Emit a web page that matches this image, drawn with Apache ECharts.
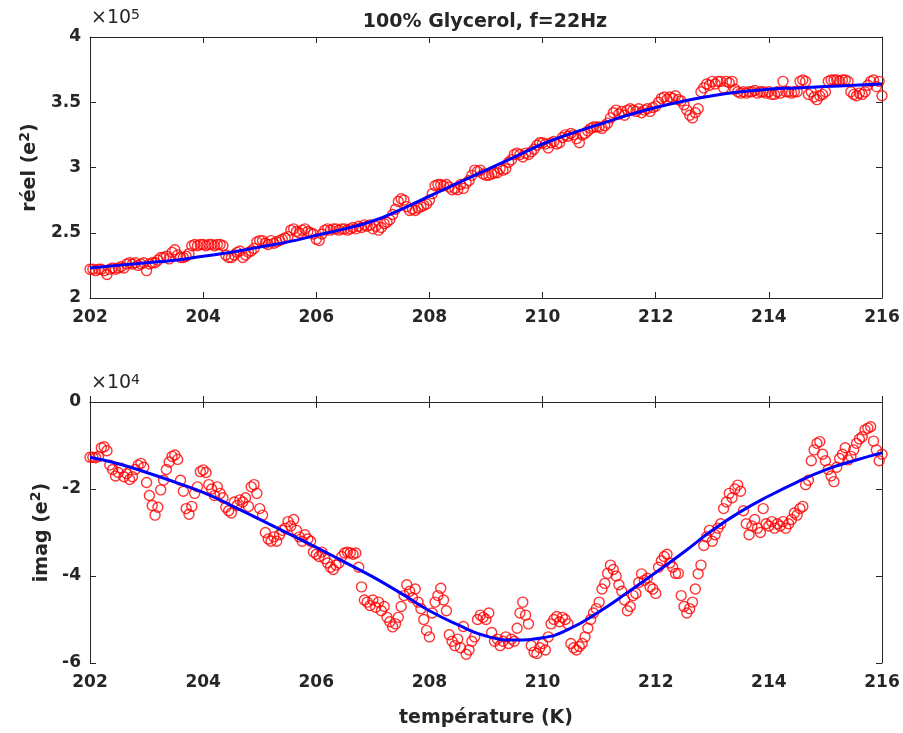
<!DOCTYPE html>
<html>
<head>
<meta charset="utf-8">
<script src="https://cdn.jsdelivr.net/npm/echarts@6/dist/echarts.min.js"></script>
<style>
  html, body { margin: 0; padding: 0; background: #fff; }
  #chart { width: 903px; height: 733px; }
</style>
</head>
<body>
<div id="chart"></div>
<script>
// Measurement temperatures (K)
const temperature = [
  202.00,202.05,202.10,202.15,202.20,202.25,202.30,202.35,202.40,202.45,
  202.50,202.55,202.60,202.65,202.70,202.75,202.80,202.85,202.90,202.95,
  203.00,203.05,203.10,203.15,203.20,203.25,203.30,203.35,203.40,203.45,
  203.50,203.55,203.60,203.65,203.70,203.75,203.80,203.85,203.90,203.95,
  204.00,204.05,204.10,204.15,204.20,204.25,204.30,204.35,204.40,204.45,
  204.50,204.55,204.60,204.65,204.70,204.75,204.80,204.85,204.90,204.95,
  205.00,205.05,205.10,205.15,205.20,205.25,205.30,205.35,205.40,205.45,
  205.50,205.55,205.60,205.65,205.70,205.75,205.80,205.85,205.90,205.95,
  206.00,206.05,206.10,206.15,206.20,206.25,206.30,206.35,206.40,206.45,
  206.50,206.55,206.60,206.65,206.70,206.75,206.80,206.85,206.90,206.95,
  207.00,207.05,207.10,207.15,207.20,207.25,207.30,207.35,207.40,207.45,
  207.50,207.55,207.60,207.65,207.70,207.75,207.80,207.85,207.90,207.95,
  208.00,208.05,208.10,208.15,208.20,208.25,208.30,208.35,208.40,208.45,
  208.50,208.55,208.60,208.65,208.70,208.75,208.80,208.85,208.90,208.95,
  209.00,209.05,209.10,209.15,209.20,209.25,209.30,209.35,209.40,209.45,
  209.50,209.55,209.60,209.65,209.70,209.75,209.80,209.85,209.90,209.95,
  210.00,210.05,210.10,210.15,210.20,210.25,210.30,210.35,210.40,210.45,
  210.50,210.55,210.60,210.65,210.70,210.75,210.80,210.85,210.90,210.95,
  211.00,211.05,211.10,211.15,211.20,211.25,211.30,211.35,211.40,211.45,
  211.50,211.55,211.60,211.65,211.70,211.75,211.80,211.85,211.90,211.95,
  212.00,212.05,212.10,212.15,212.20,212.25,212.30,212.35,212.40,212.45,
  212.50,212.55,212.60,212.65,212.70,212.75,212.80,212.85,212.90,212.95,
  213.00,213.05,213.10,213.15,213.20,213.25,213.30,213.35,213.40,213.45,
  213.50,213.55,213.60,213.65,213.70,213.75,213.80,213.85,213.90,213.95,
  214.00,214.05,214.10,214.15,214.20,214.25,214.30,214.35,214.40,214.45,
  214.50,214.55,214.60,214.65,214.70,214.75,214.80,214.85,214.90,214.95,
  215.00,215.05,215.10,215.15,215.20,215.25,215.30,215.35,215.40,215.45,
  215.50,215.55,215.60,215.65,215.70,215.75,215.80,215.85,215.90,215.95,
  216.00
];

// Real part, in units of 1e5 e^2
const reel = [
  2.22,2.22,2.21,2.22,2.22,2.21,2.18,2.22,2.23,2.22,
  2.23,2.24,2.23,2.26,2.27,2.26,2.27,2.25,2.26,2.27,
  2.21,2.26,2.27,2.27,2.29,2.31,2.31,2.32,2.30,2.35,
  2.37,2.33,2.31,2.31,2.32,2.34,2.40,2.41,2.40,2.41,
  2.41,2.40,2.41,2.41,2.40,2.41,2.41,2.40,2.33,2.31,
  2.31,2.33,2.35,2.36,2.31,2.33,2.35,2.36,2.38,2.43,
  2.44,2.44,2.42,2.41,2.44,2.42,2.43,2.44,2.45,2.46,
  2.47,2.52,2.53,2.51,2.50,2.52,2.53,2.51,2.50,2.49,
  2.45,2.44,2.49,2.52,2.53,2.52,2.53,2.53,2.52,2.53,
  2.53,2.52,2.53,2.54,2.53,2.55,2.54,2.56,2.55,2.56,
  2.53,2.55,2.52,2.54,2.57,2.58,2.60,2.64,2.68,2.74,
  2.76,2.75,2.70,2.67,2.68,2.67,2.69,2.70,2.71,2.72,
  2.75,2.80,2.86,2.87,2.87,2.86,2.87,2.85,2.83,2.84,
  2.83,2.87,2.84,2.88,2.90,2.94,2.98,2.97,2.98,2.95,
  2.94,2.94,2.95,2.96,2.96,2.99,2.98,2.99,3.04,3.06,
  3.10,3.11,3.10,3.08,3.11,3.10,3.12,3.14,3.17,3.19,
  3.19,3.18,3.15,3.19,3.20,3.18,3.19,3.23,3.25,3.24,
  3.26,3.25,3.22,3.19,3.25,3.26,3.28,3.30,3.31,3.31,
  3.31,3.30,3.32,3.34,3.38,3.42,3.44,3.41,3.43,3.40,
  3.44,3.45,3.44,3.43,3.45,3.42,3.44,3.45,3.43,3.46,
  3.47,3.50,3.53,3.54,3.52,3.54,3.53,3.55,3.52,3.51,
  3.48,3.44,3.40,3.38,3.42,3.45,3.58,3.61,3.64,3.63,
  3.66,3.64,3.66,3.66,3.61,3.66,3.65,3.66,3.60,3.58,
  3.57,3.58,3.57,3.58,3.58,3.59,3.57,3.58,3.58,3.57,
  3.58,3.56,3.56,3.58,3.57,3.66,3.58,3.58,3.57,3.58,
  3.58,3.66,3.67,3.66,3.56,3.58,3.54,3.52,3.55,3.56,
  3.58,3.66,3.67,3.67,3.67,3.66,3.67,3.67,3.66,3.58,
  3.56,3.55,3.57,3.56,3.58,3.63,3.66,3.67,3.62,3.66,
  3.55
];

// Imaginary part, in units of 1e4 e^2
const imag = [
  -1.27,-1.27,-1.28,-1.25,-1.05,-1.03,-1.12,-1.45,-1.55,-1.70,
  -1.62,-1.52,-1.72,-1.65,-1.78,-1.72,-1.55,-1.45,-1.41,-1.50,
  -1.85,-2.15,-2.38,-2.60,-2.42,-2.02,-1.80,-1.55,-1.38,-1.25,
  -1.22,-1.32,-1.80,-2.05,-2.45,-2.58,-2.40,-2.10,-1.95,-1.60,
  -1.56,-1.62,-1.90,-2.00,-2.15,-1.95,-2.10,-2.20,-2.42,-2.50,
  -2.55,-2.30,-2.38,-2.25,-2.30,-2.20,-2.40,-1.95,-1.90,-2.10,
  -2.45,-2.60,-3.00,-3.15,-3.20,-3.10,-3.20,-3.05,-2.95,-2.90,
  -2.75,-2.85,-2.70,-2.95,-3.10,-3.20,-3.05,-3.15,-3.20,-3.45,
  -3.50,-3.55,-3.45,-3.60,-3.70,-3.80,-3.85,-3.75,-3.70,-3.55,
  -3.47,-3.45,-3.47,-3.50,-3.47,-3.80,-4.25,-4.55,-4.60,-4.68,
  -4.55,-4.72,-4.60,-4.80,-4.70,-4.95,-5.05,-5.17,-5.10,-4.95,
  -4.70,-4.45,-4.20,-4.35,-4.50,-4.30,-4.60,-4.75,-5.00,-5.25,
  -5.40,-4.85,-4.60,-4.45,-4.28,-4.55,-4.80,-5.35,-5.50,-5.60,
  -5.45,-5.65,-5.16,-5.80,-5.70,-5.50,-5.40,-5.00,-4.90,-4.95,
  -5.00,-4.85,-5.30,-5.50,-5.45,-5.60,-5.50,-5.40,-5.55,-5.45,
  -5.50,-5.20,-4.85,-4.60,-4.90,-5.10,-5.60,-5.75,-5.78,-5.65,
  -5.55,-5.70,-5.40,-5.10,-5.00,-4.93,-5.05,-4.95,-5.00,-5.10,
  -5.55,-5.65,-5.70,-5.62,-5.55,-5.40,-5.20,-5.00,-4.85,-4.75,
  -4.60,-4.30,-4.17,-3.94,-3.75,-3.85,-4.00,-4.20,-4.35,-4.55,
  -4.80,-4.70,-4.45,-4.40,-4.15,-3.95,-4.10,-4.05,-4.25,-4.30,
  -4.40,-3.80,-3.65,-3.55,-3.50,-3.70,-3.80,-3.94,-3.94,-4.45,
  -4.70,-4.85,-4.75,-4.60,-4.30,-3.95,-3.75,-3.30,-3.10,-2.95,
  -3.20,-3.05,-2.90,-2.80,-2.45,-2.30,-2.10,-2.20,-2.00,-1.91,
  -2.05,-2.50,-2.80,-3.05,-2.85,-2.70,-2.90,-3.00,-2.45,-2.80,
  -2.85,-2.75,-2.90,-2.80,-2.85,-2.75,-2.90,-2.80,-2.70,-2.55,
  -2.60,-2.45,-2.40,-1.90,-1.80,-1.35,-1.10,-0.95,-0.91,-1.20,
  -1.35,-1.55,-1.70,-1.83,-1.50,-1.30,-1.20,-1.05,-1.33,-1.25,
  -1.10,-0.95,-0.85,-0.80,-0.64,-0.60,-0.57,-0.90,-1.10,-1.35,
  -1.20
];

// Fitted model curves, sampled every 0.5 K
const fitTemperature = [
  202.0,202.5,203.0,203.5,204.0,204.5,205.0,205.5,206.0,206.5,
  207.0,207.5,208.0,208.5,209.0,209.5,210.0,210.5,211.0,211.5,
  212.0,212.5,213.0,213.5,214.0,214.5,215.0,215.5,216.0
];
const fitReel = [
  2.23,2.25,2.27,2.29,2.32,2.35,2.39,2.43,2.48,2.53,
  2.59,2.68,2.78,2.88,2.98,3.08,3.18,3.26,3.33,3.40,
  3.46,3.51,3.55,3.58,3.60,3.61,3.62,3.63,3.64
];
const fitImag = [
  -1.27,-1.42,-1.62,-1.84,-2.08,-2.38,-2.70,-3.02,-3.34,-3.68,
  -4.02,-4.40,-4.80,-5.12,-5.38,-5.47,-5.42,-5.20,-4.82,-4.38,
  -3.92,-3.45,-2.95,-2.52,-2.16,-1.84,-1.56,-1.35,-1.17
];

const xTicks = { min: 202, max: 216, interval: 2 };
const reelTicks = { min: 2, max: 4, interval: 0.5 };
const imagTicks = { min: -6, max: 0, interval: 2 };

const FONT = 'DejaVu Sans';
const INK = '#262626';
const pairs = (xs, ys) => xs.map((x, i) => [x, ys[i]]);

const labelRich = {
  sup: { fontFamily: FONT, fontWeight: 'bold', fontSize: 14, color: INK, verticalAlign: 'top', lineHeight: 24 },
  base: { fontFamily: FONT, fontWeight: 'bold', fontSize: 19, color: INK, lineHeight: 24 }
};

function xAxisPair(gridIndex, withName) {
  const common = {
    gridIndex, type: 'value', min: xTicks.min, max: xTicks.max, interval: xTicks.interval,
    axisLine: { show: true, lineStyle: { color: INK, width: 1 } },
    axisTick: { show: true, inside: true, length: 6, lineStyle: { color: INK } },
    splitLine: { show: false }
  };
  const bottom = Object.assign({}, common, {
    position: 'bottom',
    axisLabel: { show: true, margin: 11, color: INK, fontFamily: FONT, fontWeight: 'bold', fontSize: 17 }
  });
  if (withName) {
    Object.assign(bottom, {
      name: 'température (K)', nameLocation: 'middle', nameGap: 46,
      nameTextStyle: { fontFamily: FONT, fontWeight: 'bold', fontSize: 19, color: INK }
    });
  }
  const top = Object.assign({}, common, { position: 'top', axisLabel: { show: false } });
  return [bottom, top];
}

function yAxisPair(gridIndex, ticks, name, gap) {
  const common = {
    gridIndex, type: 'value', min: ticks.min, max: ticks.max, interval: ticks.interval,
    axisLine: { show: true, lineStyle: { color: INK, width: 1 } },
    axisTick: { show: true, inside: true, length: 6, lineStyle: { color: INK } },
    splitLine: { show: false }
  };
  const left = Object.assign({}, common, {
    position: 'left',
    axisLabel: { show: true, margin: 9, color: INK, fontFamily: FONT, fontWeight: 'bold', fontSize: 17 },
    name: name, nameLocation: 'middle', nameGap: gap, nameRotate: 90,
    nameTextStyle: { rich: labelRich }
  });
  const right = Object.assign({}, common, { position: 'right', axisLabel: { show: false } });
  return [left, right];
}

const chart = echarts.init(document.getElementById('chart'), null, { renderer: 'canvas' });

const [xb0, xt0] = xAxisPair(0, false);
const [xb1, xt1] = xAxisPair(1, true);
const [yl0, yr0] = yAxisPair(0, reelTicks, '{base|réel (e}{sup|2}{base|)}', 44);
const [yl1, yr1] = yAxisPair(1, imagTicks, '{base|imag (e}{sup|2}{base|)}', 36);

const scatterStyle = {
  symbol: 'circle', symbolSize: 10,
  itemStyle: { color: 'rgba(0,0,0,0)', borderColor: '#ff0000', borderWidth: 1.4 }
};
const fitStyle = {
  type: 'line', smooth: true, showSymbol: false, symbol: 'none', z: 5,
  lineStyle: { color: '#0000ff', width: 3 }
};

// "×10^n" exponent marker above each plot's y axis
const exponentText = (top, exp) => ({
  type: 'text', left: 91, top: top,
  style: {
    text: '×10{e|' + exp + '}',
    rich: {
      e: { fontFamily: FONT, fontSize: 14, fill: INK, verticalAlign: 'top', lineHeight: 20 }
    },
    fontFamily: FONT, fontSize: 19, fill: INK, lineHeight: 20
  }
});

chart.setOption({
  animation: false,
  backgroundColor: '#ffffff',
  title: {
    text: '100% Glycerol, f=22Hz',
    left: 480, top: 8, textAlign: 'center',
    textStyle: { fontFamily: FONT, fontWeight: 'bold', fontSize: 19, color: INK }
  },
  grid: [
    { left: 90, right: 21, top: 37, height: 261, containLabel: false },
    { left: 90, right: 21, top: 402, height: 261, containLabel: false }
  ],
  xAxis: [xb0, xt0, xb1, xt1],
  yAxis: [yl0, yr0, yl1, yr1],
  graphic: [exponentText(8, 5), exponentText(373, 4)],
  series: [
    Object.assign({ type: 'scatter', xAxisIndex: 0, yAxisIndex: 0, data: pairs(temperature, reel) }, scatterStyle),
    Object.assign({ xAxisIndex: 0, yAxisIndex: 0, data: pairs(fitTemperature, fitReel) }, fitStyle),
    Object.assign({ type: 'scatter', xAxisIndex: 2, yAxisIndex: 2, data: pairs(temperature, imag) }, scatterStyle),
    Object.assign({ xAxisIndex: 2, yAxisIndex: 2, data: pairs(fitTemperature, fitImag) }, fitStyle)
  ]
});
</script>
</body>
</html>
